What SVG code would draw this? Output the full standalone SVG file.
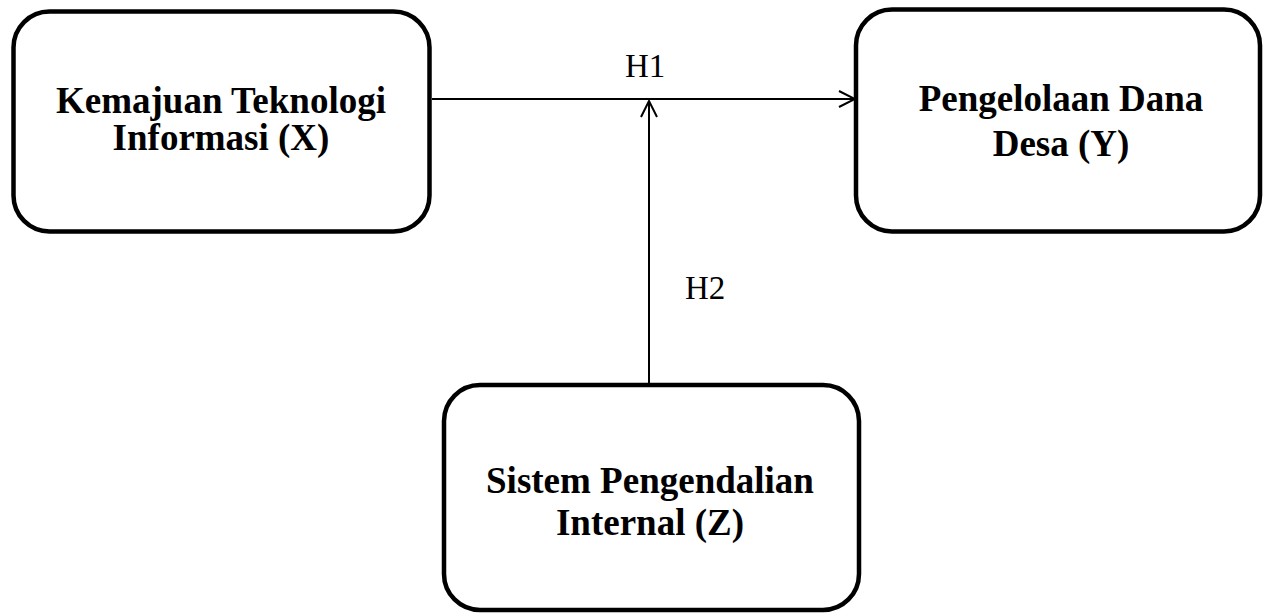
<svg xmlns="http://www.w3.org/2000/svg" width="1263" height="613" viewBox="0 0 1263 613">
<style>
.box{fill:#fff;stroke:#000;stroke-width:4.5}
.lbl{font-family:"Liberation Serif","Times New Roman",serif;font-weight:bold;font-size:37px;text-anchor:middle;fill:#000}
.h{font-family:"Liberation Serif","Times New Roman",serif;font-size:33px;fill:#000}
.conn{stroke:#000;stroke-width:2;fill:none}
</style>
<defs>
<marker id="arr" viewBox="0 0 20 20" refX="18" refY="10" markerWidth="20" markerHeight="20" markerUnits="userSpaceOnUse" orient="auto">
<path d="M2,2 L18,10 L2,18" fill="none" stroke="#000" stroke-width="2"/>
</marker>
</defs>
<rect width="1263" height="613" fill="#fff"/>
<g id="connectors">
<line class="conn" x1="432" y1="99" x2="855" y2="99" marker-end="url(#arr)"/>
<line class="conn" x1="649" y1="384" x2="649" y2="101" marker-end="url(#arr)"/>
<text class="h" x="625" y="77">H1</text>
<text class="h" x="685" y="299">H2</text>
</g>
<g id="node-x">
<rect class="box" x="13.5" y="11.5" width="416" height="220" rx="36"/>
<text class="lbl" x="221" y="113">Kemajuan Teknologi</text>
<text class="lbl" x="221" y="150">Informasi (X)</text>
</g>
<g id="node-y">
<rect class="box" x="856" y="9.5" width="404" height="222" rx="36"/>
<text class="lbl" x="1061" y="111">Pengelolaan Dana</text>
<text class="lbl" x="1061" y="156">Desa (Y)</text>
</g>
<g id="node-z">
<rect class="box" x="444" y="385" width="415" height="225" rx="36"/>
<text class="lbl" x="650" y="493">Sistem Pengendalian</text>
<text class="lbl" x="650" y="535">Internal (Z)</text>
</g>
</svg>
